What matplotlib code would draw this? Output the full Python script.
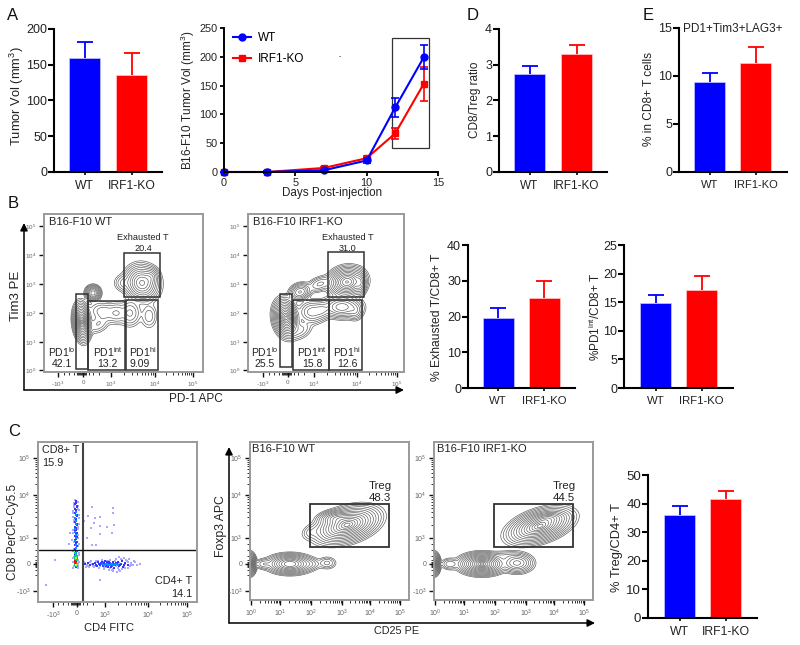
import numpy as np
import matplotlib
matplotlib.use('Agg')
import matplotlib.pyplot as plt
from matplotlib.patches import Rectangle

plt.rcParams['font.family'] = ['Liberation Sans', 'DejaVu Sans']
plt.rcParams['mathtext.fontset'] = 'custom'
plt.rcParams['mathtext.rm'] = 'Liberation Sans'
plt.rcParams['mathtext.default'] = 'regular'

BLUE = '#0000ff'
RED = '#ff0000'
INK = '#222222'
groups = ['WT', 'IRF1-KO']

# bar panels: mean, upper error end
tumor_mean = [159, 135]
tumor_top = [182, 167]
ratio_mean = [2.73, 3.30]
ratio_top = [2.97, 3.55]
triple_mean = [9.4, 11.4]
triple_top = [10.3, 13.0]
exhausted_mean = [19.6, 25.2]
exhausted_top = [22.5, 29.9]
pd1int_mean = [14.8, 17.1]
pd1int_top = [16.2, 19.6]
treg_mean = [36, 41.5]
treg_top = [39, 44.5]

# growth curve
days = [0, 3, 7, 10, 12, 14]
wt_vol = [0, 0, 3, 20, 112, 199]
wt_err = [0, 1, 1, 4, 17, 21]
ko_vol = [0, 0, 7, 24, 67, 153]
ko_err = [0, 1, 2, 4, 9, 30]
box_days = [11.77, 14.37]
box_vol = [41, 232]

# flow plots are on a display channel scale
# density peaks: x, y, sigma x, sigma y, tilt (deg), height
pd1_wt_peaks = [(82, 322, 3.2, 7.0, 5, 1.0), (93, 293, 3.0, 3.0, 0, .35), (104, 312, 7, 4.5, -10, .04),
                (117, 313, 4.5, 5, 0, .04), (130, 313, 5, 6, 0, .05), (149, 316, 4, 6, 0, .02),
                (98, 324, 6, 4, 30, .025), (142, 283, 6.5, 7, 30, .55), (124, 283, 4.5, 4, 0, .03), (151, 277, 3.5, 4, 0, .12)]
pd1_ko_peaks = [(286, 318, 4.6, 7, 10, 1.0), (300, 292, 4.5, 3.4, 20, .2), (312, 312, 6, 5, 0, .1),
                (322, 310, 4.5, 4, 0, .07), (342, 307, 8, 4.5, 0, .25), (355, 311, 3.5, 4, 0, .06),
                (347, 282, 7, 5.5, 10, .8), (360, 283, 2.5, 5, 0, .2), (320, 284, 6, 3.2, 20, .05), (300, 330, 6, 4, 30, .03)]
treg_wt_peaks = [(347, 525, 12, 6, 17, 1.0), (336, 518, 7, 3, 5, .25), (312, 532, 5, 3.5, 20, .02),
                 (290, 564, 8.5, 3.7, 0, .65), (327, 563, 4.2, 2.8, 0, .03), (310, 564, 5, 2.8, 0, .03), (250, 564, 2.2, 4, 0, 1.0),
                 (264, 564, 4, 2.4, 0, .04)]
treg_ko_peaks = [(540, 526, 12, 5.5, 18, 1.0), (548, 518, 8, 2.5, 5, .2), (482, 564, 8.5, 4, 0, 1.0),
                 (517, 563, 6.5, 4, 0, .22), (434, 564, 2.2, 4, 0, 1.0), (505, 556, 8, 2.5, 0, .02),
                 (450, 564, 4, 2.6, 0, .04)]
# rings evenly spaced out from a peak
density_levels = np.exp(-0.5 * np.linspace(3.4, 0.25, 15) ** 2)

# gates: left, right, top, bottom
pd1_wt_gates = [(76, 88, 294, 369), (88, 125, 301, 370), (126, 158, 300, 370), (124, 160, 253, 297)]
pd1_ko_gates = [(280, 292, 294, 367), (293, 329, 300, 370), (329, 362, 300, 370), (328, 364, 252, 297)]
treg_wt_gate = [(310, 389, 504, 547)]
treg_ko_gate = [(494, 573, 504, 547)]

# tick channels
pd1_wt_xticks = [58, 83, 111, 155, 193]
pd1_ko_xticks = [263, 288, 314, 357, 397]
pd1_xlabels = ['-10$^{3}$', '0', '10$^{3}$', '10$^{4}$', '10$^{5}$']
pd1_yticks = [370, 342, 313, 284, 255, 226]
pd1_ylabels = ['10$^{0}$', '10$^{1}$', '10$^{2}$', '10$^{3}$', '10$^{4}$', '10$^{5}$']
treg_wt_xticks = [251, 280, 311, 342, 370, 400]
treg_ko_xticks = [435, 464, 495, 526, 554, 584]
treg_xlabels = ['10$^{0}$', '10$^{1}$', '10$^{2}$', '10$^{3}$', '10$^{4}$', '10$^{5}$']
c_yticks = [591, 564, 538, 495, 458]
c_ylabels = ['-10$^{3}$', '0', '10$^{3}$', '10$^{4}$', '10$^{5}$']
cd4_xticks = [53, 77, 105, 148, 187]
cd4_xlabels = ['-10$^{3}$', '0', '10$^{3}$', '10$^{4}$', '10$^{5}$']

# CD4/CD8 dot plot, by colour tier
pale_x = [92, 88, 84, 95, 100, 94, 100, 91, 107, 114, 112, 100, 113, 113, 87, 92, 96, 70, 69, 55, 46, 100,
          74, 78, 73, 79, 74, 79, 73, 78, 72, 79, 74, 79, 73, 78, 75, 78, 74, 78, 73, 79, 74, 78, 73, 78, 74, 78,
          73, 79, 74, 78, 73, 78, 74, 79, 73, 78, 74, 79, 73, 78,
          85, 88, 91, 94, 97, 99, 102, 104, 107, 110, 113, 116, 119, 122, 125, 128, 131, 134, 137, 140,
          86, 90, 93, 96, 100, 103, 106, 109, 112, 115, 118, 121, 124, 127, 130, 133, 120, 113, 117, 109, 124, 119,
          84, 87, 89, 92, 95, 98, 101, 104, 107, 110, 113, 116, 119, 122, 125, 128, 131, 126, 129, 135]
pale_y = [507, 516, 521, 518, 517, 523, 526, 528, 527, 525, 533, 534, 508, 513, 538, 545, 545, 533, 544, 560, 585, 580,
          503, 506, 511, 515, 520, 524, 530, 535, 540, 544, 549, 553, 558, 566, 500, 502, 505, 509, 513, 518, 522, 527, 533, 538, 542, 546,
          551, 555, 557, 560, 562, 564, 566, 562, 568, 568, 507, 510, 517, 529,
          563, 566, 561, 567, 562, 568, 560, 569, 561, 560, 569, 559, 570, 560, 568, 562, 565, 561, 565, 564,
          567, 562, 566, 561, 566, 562, 567, 561, 570, 561, 568, 559, 567, 561, 566, 565, 571, 571, 572, 570, 558, 557,
          562, 565, 567, 564, 566, 561, 563, 567, 563, 568, 562, 566, 563, 569, 564, 568, 563, 560, 559, 562]
blue_x = [76, 75, 77, 76, 75, 77, 76, 75, 77, 76, 75, 76, 77, 75, 76, 77, 75, 76, 75, 77, 76, 75, 77, 76,
          76, 77, 75, 76, 77, 75, 76, 77, 75, 76, 77, 75, 76, 77, 75, 76,
          85, 88, 90, 93, 95, 97, 99, 101, 103, 105, 107, 108, 110, 112, 113, 115, 117, 119, 121, 123, 125, 128,
          98, 102, 105, 109, 111, 114, 118, 122, 96, 100, 104, 106, 108, 111, 113, 116, 120, 124]
blue_y = [501, 504, 507, 510, 513, 516, 519, 522, 525, 528, 531, 534, 537, 540, 543, 546, 549, 552, 555, 557, 559, 561, 563, 567,
          503, 506, 509, 512, 515, 518, 521, 524, 527, 530, 533, 536, 539, 542, 545, 548,
          564, 563, 565, 564, 563, 566, 564, 563, 566, 564, 562, 567, 563, 566, 562, 565, 563, 566, 564, 567, 563, 565,
          562, 562, 561, 562, 567, 568, 562, 561, 565, 565, 563, 566, 563, 565, 564, 563, 565, 565]
cyan_x = [76, 75, 76, 75, 76, 75, 76, 77, 76, 75, 77, 76, 76, 76, 75, 76, 76,
          102, 105, 107, 110, 112, 114, 116, 118, 104, 106, 108, 111, 113, 115]
cyan_y = [512, 518, 524, 529, 535, 541, 545, 551, 553, 556, 558, 566, 515, 521, 532, 538, 548,
          564, 565, 564, 565, 564, 565, 564, 565, 565, 564, 565, 564, 565, 564]
green_x = [75, 76, 77, 75, 77, 76, 75, 77, 76, 75, 76, 77]
green_y = [553, 555, 556, 559, 560, 561, 565, 566, 557, 557, 564, 563]
yellow_x = [76, 75, 76, 77]
yellow_y = [558, 561, 565, 562]
red_x = [75, 76, 75]
red_y = [563, 562, 561]
cd4_split = 83
cd8_split = 550


def px_axes(fig, left, right, top, bottom):
    return fig.add_axes([left / 800, 1 - bottom / 645, (right - left) / 800, (bottom - top) / 645])


def bar_panel(fig, mean, top, ymax, yticks, left, first, second, right, y0, y1, size=9, lab=8.5):
    # first / second are the bar centres in pixels
    step = second - first
    ax = px_axes(fig, left, right, y1, y0)
    ax.bar(0, mean[0], width=31 / step, color=BLUE, edgecolor='#c8c8ff', linewidth=0.5)
    ax.bar(1, mean[1], width=31 / step, color=RED, edgecolor='#ffc8c8', linewidth=0.5)
    for i, col in enumerate([BLUE, RED]):
        eb = ax.errorbar(i, mean[i], yerr=[[0], [top[i] - mean[i]]], color=col, capsize=5.5, elinewidth=1.3, capthick=1.3)
        eb[1][0].set_visible(False)
    ax.set_xlim((left - first) / step, (right - first) / step)
    ax.set_ylim(0, ymax)
    ax.set_yticks(yticks)
    ax.set_xticks([0, 1], groups)
    ax.spines[['top', 'right']].set_visible(False)
    ax.spines[['left', 'bottom']].set_linewidth(1.5)
    ax.tick_params(axis='y', width=1.5, length=4, labelsize=size, pad=1, labelcolor=INK)
    ax.tick_params(axis='x', width=1.2, length=2, labelsize=lab, pad=3.5, labelcolor=INK)
    ax.patch.set_alpha(0)
    return ax


def log_minors(major):
    out = []
    for a, b in zip(major[:-1], major[1:]):
        for k in range(2, 10):
            out.append(a + (b - a) * np.log10(k))
    return out


def flow_frame(ax, xticks, xlabels, yticks, ylabels, biex=True, yminor=True, tick_size=4.5, pad=2):
    for s in ax.spines.values():
        s.set_color('#9a9a9a')
        s.set_linewidth(1.4)
    ax.set_xticks(xticks, xlabels)
    ax.set_yticks(yticks, ylabels)
    if biex:
        # ticks crowd around zero on a biexponential axis
        zero = xticks[1]
        near = [zero - d for d in (1, 2, 3, 4, 5, 6, 9, 14, 19)] + [zero + d for d in (1, 2, 3, 6, 10, 16)]
        ax.set_xticks(log_minors(xticks[2:]) + near, minor=True)
    else:
        ax.set_xticks(log_minors(xticks), minor=True)
    if yminor:
        zero = yticks[1]
        near = [zero + d for d in (-2, -1, 1, 2, 3, 6, 11)] + [zero - d for d in (4, 8, 14, 20)]
        ax.set_yticks(log_minors(yticks[2:]) + near, minor=True)
    ax.tick_params(which='major', length=3.5, width=1.0, color='#111111', labelsize=tick_size, labelcolor='#666666', pad=pad)
    ax.tick_params(which='minor', length=2, width=0.6, color='#111111')
    ax.patch.set_alpha(0)


def density_contours(ax, peaks, left, right, top, bottom):
    xs = np.linspace(left, right, 320)
    ys = np.linspace(top, bottom, 320)
    gx, gy = np.meshgrid(xs, ys)
    dens = np.zeros_like(gx)
    for cx, cy, sx, sy, tilt, amp in peaks:
        t = np.radians(tilt)
        u = (gx - cx) * np.cos(t) + (cy - gy) * np.sin(t)
        v = -(gx - cx) * np.sin(t) + (cy - gy) * np.cos(t)
        dens += amp * np.exp(-0.5 * ((u / sx) ** 2 + (v / sy) ** 2))
    ax.contour(gx, gy, dens, levels=density_levels, colors='#555555', linewidths=0.45)


def draw_gates(ax, gates, lw=1.1):
    for l, r, t, b in gates:
        ax.add_patch(Rectangle((l, b), r - l, t - b, fill=False, edgecolor='#333333', linewidth=lw, zorder=5))


def flow_panel(fig, box, peaks, gates, xticks, xlabels, yticks, ylabels, biex, yminor, tick_size=4.5, gate_lw=1.1):
    left, right, top, bottom = box
    ax = px_axes(fig, left, right, top, bottom)
    density_contours(ax, peaks, left, right, top, bottom)
    draw_gates(ax, gates, gate_lw)
    ax.set_xlim(left, right)
    ax.set_ylim(bottom, top)
    flow_frame(ax, xticks, xlabels, yticks, ylabels, biex, yminor, tick_size)
    return ax


fig = plt.figure(figsize=(8, 6.45), dpi=100)

# overlay in picture pixels for free text and the big arrows
over = fig.add_axes([0, 0, 1, 1])
over.set_xlim(0, 800)
over.set_ylim(645, 0)
over.axis('off')


def say(x, y, s, size=8, ha='center', rot=0, color=INK):
    over.text(x, y, s, fontsize=size, ha=ha, va='center', rotation=rot, color=color)


def arrow(x0, y0, x1, y1):
    over.annotate('', xy=(x1, y1), xytext=(x0, y0),
                  arrowprops=dict(arrowstyle='-|>', color='black', lw=1.1, mutation_scale=11, shrinkA=0, shrinkB=0))


# A
bar_panel(fig, tumor_mean, tumor_top, 200, [0, 50, 100, 150, 200], 54, 84.5, 131.5, 162, 172, 29, 9, 8.7)
say(17, 96, 'Tumor Vol (mm$^{3}$)', 9.3, rot=90)

ax = px_axes(fig, 224, 438, 28, 172)
ax.plot(days, ko_vol, color=RED, marker='s', ms=5, lw=1.5, clip_on=False, label='IRF1-KO')
ax.errorbar(days, ko_vol, yerr=ko_err, color=RED, capsize=2.8, lw=0, elinewidth=1.2, capthick=1.2, clip_on=False)
ax.plot(days, wt_vol, color=BLUE, marker='o', ms=5, lw=1.5, clip_on=False, label='WT')
ax.errorbar(days, wt_vol, yerr=wt_err, color=BLUE, capsize=2.8, lw=0, elinewidth=1.2, capthick=1.2, clip_on=False)
ax.add_patch(Rectangle((box_days[0], box_vol[0]), box_days[1] - box_days[0], box_vol[1] - box_vol[0],
                       fill=False, edgecolor='#333333', linewidth=0.9, clip_on=False))
ax.set_xlim(0, 15)
ax.set_ylim(0, 250)
ax.set_xticks([0, 5, 10, 15])
ax.set_yticks([0, 50, 100, 150, 200, 250])
ax.spines[['top', 'right']].set_visible(False)
ax.spines[['left', 'bottom']].set_linewidth(1.4)
ax.tick_params(width=1.3, length=3, labelsize=7.8, pad=1.5, labelcolor=INK)
ax.tick_params(axis='x', pad=1)
ax.patch.set_alpha(0)
hs, ls = ax.get_legend_handles_labels()
ax.legend(hs[::-1], ls[::-1], loc='upper left', bbox_to_anchor=(0.015, 1.01), frameon=False, fontsize=8.5,
          handlelength=1.5, labelspacing=0.7, handletextpad=0.6, borderpad=0)
say(188, 100, 'B16-F10 Tumor Vol (mm$^{3}$)', 8.5, rot=90)
say(332, 193, 'Days Post-injection', 8.4)
say(340, 57, '-', 5)

# D, E
bar_panel(fig, ratio_mean, ratio_top, 4, [0, 1, 2, 3, 4], 499, 529.5, 576.5, 607, 172, 29, 9, 8.5)
say(475, 100, 'CD8/Treg ratio', 8.5, rot=90)
bar_panel(fig, triple_mean, triple_top, 15, [0, 5, 10, 15], 679, 709.5, 755.5, 787, 172, 28, 9, 8)
say(649, 99, '% in CD8+ T cells', 8.6, rot=90)
say(733, 29, 'PD1+Tim3+LAG3+', 8.5)

# B bars
bar_panel(fig, exhausted_mean, exhausted_top, 40, [0, 10, 20, 30, 40], 468, 498, 544, 575, 388, 245, 9, 8.2)
say(437, 317, '% Exhausted T/CD8+ T', 8.7, rot=90)
bar_panel(fig, pd1int_mean, pd1int_top, 25, [0, 5, 10, 15, 20, 25], 624, 655.5, 701.5, 733, 388, 245, 9, 8.2)
say(595, 317, '%PD1$^{int}$/CD8+ T', 8.5, rot=90)

# C bar
bar_panel(fig, treg_mean, treg_top, 50, [0, 10, 20, 30, 40, 50], 648, 679.5, 725.5, 757, 618, 475, 9.5, 8.8)
say(617, 548, '% Treg/CD4+ T', 9.3, rot=90)

# B flow
flow_panel(fig, (44, 203, 214, 372), pd1_wt_peaks, pd1_wt_gates, pd1_wt_xticks, pd1_xlabels, pd1_yticks, pd1_ylabels, True, False)
flow_panel(fig, (248, 404, 214, 372), pd1_ko_peaks, pd1_ko_gates, pd1_ko_xticks, pd1_xlabels, pd1_yticks, pd1_ylabels, True, False)

say(49, 222, 'B16-F10 WT', 8, ha='left')
say(143, 238, 'Exhausted T', 6.6)
say(143, 248.5, '20.4', 6.6)
say(62, 352, 'PD1$^{lo}$', 7.5)
say(62, 364, '42.1', 7.5)
say(108, 352, 'PD1$^{int}$', 7.5)
say(107, 364, '13.2', 7.5)
say(143, 352, 'PD1$^{hi}$', 7.5)
say(140, 364, '9.09', 7.5)
say(253, 222, 'B16-F10 IRF1-KO', 8, ha='left')
say(348, 238, 'Exhausted T', 6.6)
say(348, 248.5, '31.0', 6.6)
say(265, 352, 'PD1$^{lo}$', 7.5)
say(265, 364, '25.5', 7.5)
say(312, 352, 'PD1$^{int}$', 7.5)
say(312, 364, '15.8', 7.5)
say(347, 352, 'PD1$^{hi}$', 7.5)
say(347, 364, '12.6', 7.5)
say(16, 296, 'Tim3 PE', 9.5, rot=90)
say(196, 399, 'PD-1 APC', 8.5)
arrow(24, 390, 24, 223)
arrow(24, 390, 404, 390)

# C dot plot
ax = px_axes(fig, 38, 197, 442, 602)
for xs, ys, col, size in [(pale_x, pale_y, '#a8a8ff', 2.6), (blue_x, blue_y, '#3535ff', 3.6), (cyan_x, cyan_y, '#0090ff', 3.6),
                          (green_x, green_y, '#00d878', 3.0), (yellow_x, yellow_y, '#e8e800', 3.0), (red_x, red_y, '#f01010', 3.0)]:
    ax.scatter(xs, ys, s=size, c=col, marker='s', linewidths=0)
ax.axvline(cd4_split, color='#444444', lw=1.5)
ax.axhline(cd8_split, color='#111111', lw=1.0)
ax.set_xlim(38, 197)
ax.set_ylim(602, 442)
flow_frame(ax, cd4_xticks, cd4_xlabels, c_yticks, c_ylabels, True, True, 5)
say(42, 450, 'CD8+ T', 7.8, ha='left')
say(42, 463, '15.9', 7.8, ha='left')
say(192, 581, 'CD4+ T', 7.8, ha='right')
say(192, 594, '14.1', 7.8, ha='right')
say(13, 532, 'CD8 PerCP-Cy5.5', 8.5, rot=90)
say(109, 628, 'CD4 FITC', 8)

# C Treg flow
flow_panel(fig, (250, 409, 442, 600), treg_wt_peaks, treg_wt_gate, treg_wt_xticks, treg_xlabels, c_yticks, c_ylabels, False, True, 5, 1.3)
flow_panel(fig, (434, 593, 442, 600), treg_ko_peaks, treg_ko_gate, treg_ko_xticks, treg_xlabels, c_yticks, c_ylabels, False, True, 5, 1.3)
say(252, 449, 'B16-F10 WT', 8, ha='left')
say(437, 449, 'B16-F10 IRF1-KO', 8, ha='left')
say(380, 486, 'Treg', 8.2)
say(380, 498, '48.3', 8.2)
say(564, 486, 'Treg', 8.2)
say(564, 498, '44.5', 8.2)
say(221, 526, 'Foxp3 APC', 8.8, rot=90)
say(397, 631, 'CD25 PE', 7.8)
arrow(229, 623, 229, 447)
arrow(229, 623, 595, 623)

# panel letters
for x, y, letter in [(13, 16, 'A'), (13, 204, 'B'), (14, 432, 'C'), (473, 16, 'D'), (648, 16, 'E')]:
    say(x, y, letter, 12, color='#111111')

fig.savefig('out.png', dpi=100)
